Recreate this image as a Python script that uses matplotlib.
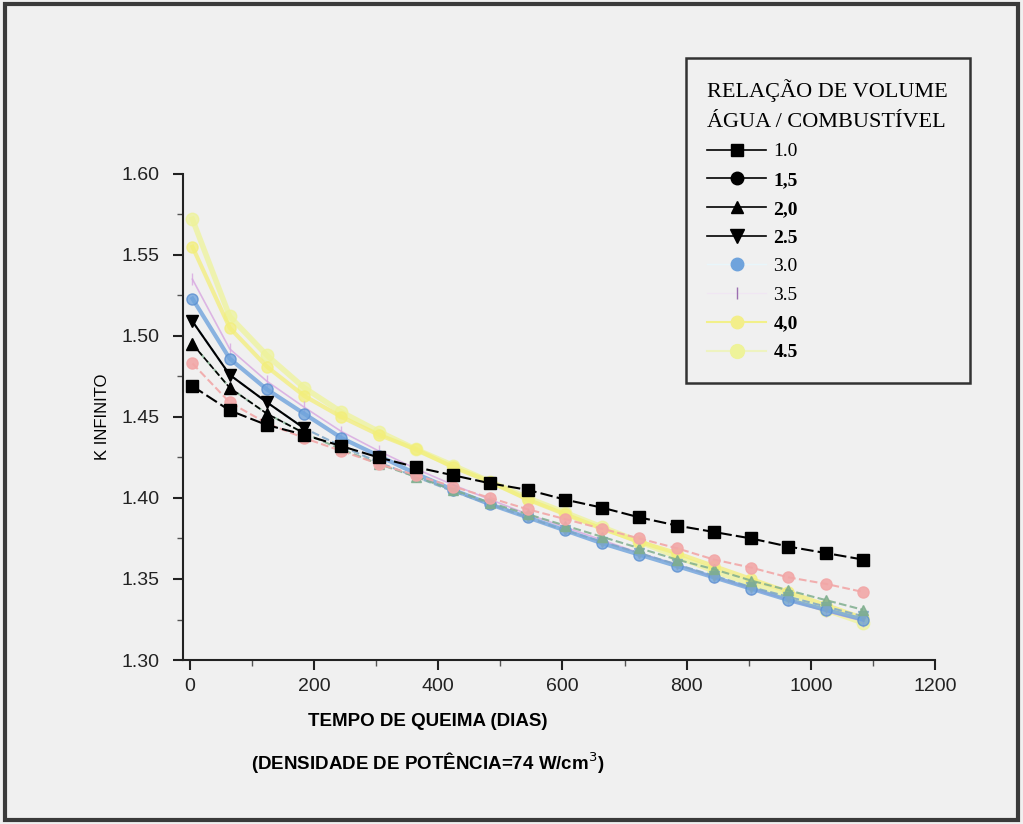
import matplotlib
matplotlib.use("Agg")
import matplotlib.pyplot as plt
from matplotlib.patches import Rectangle
from matplotlib.lines import Line2D
from matplotlib.ticker import MultipleLocator

days = [4, 64, 124, 184, 244, 304, 364, 424, 484, 544, 604, 664, 724, 784, 844, 904, 964, 1024, 1084]

k_10 = [1.469, 1.454, 1.445, 1.439, 1.432, 1.425, 1.419, 1.414, 1.409, 1.405, 1.399, 1.394, 1.388, 1.383, 1.379, 1.375, 1.370, 1.366, 1.362]
k_15 = [1.483, 1.459, 1.446, 1.437, 1.429, 1.421, 1.414, 1.407, 1.400, 1.393, 1.387, 1.381, 1.375, 1.369, 1.362, 1.357, 1.351, 1.347, 1.342]
k_20 = [1.495, 1.468, 1.452, 1.440, 1.430, 1.421, 1.413, 1.405, 1.397, 1.390, 1.383, 1.376, 1.369, 1.362, 1.356, 1.349, 1.343, 1.337, 1.331]
k_25 = [1.509, 1.476, 1.459, 1.443, 1.432, 1.422, 1.413, 1.404, 1.396, 1.388, 1.380, 1.373, 1.366, 1.359, 1.352, 1.345, 1.339, 1.333, 1.327]
k_30 = [1.523, 1.486, 1.467, 1.452, 1.437, 1.426, 1.415, 1.405, 1.396, 1.388, 1.380, 1.372, 1.365, 1.358, 1.351, 1.344, 1.337, 1.331, 1.325]
k_35 = [1.535, 1.492, 1.472, 1.456, 1.441, 1.429, 1.418, 1.408, 1.399, 1.390, 1.382, 1.374, 1.366, 1.359, 1.351, 1.344, 1.337, 1.330, 1.324]
k_40 = [1.555, 1.505, 1.481, 1.463, 1.450, 1.439, 1.430, 1.419, 1.410, 1.399, 1.390, 1.381, 1.373, 1.366, 1.358, 1.350, 1.342, 1.334, 1.326]
k_45 = [1.572, 1.512, 1.488, 1.468, 1.453, 1.441, 1.430, 1.420, 1.410, 1.400, 1.391, 1.382, 1.373, 1.364, 1.355, 1.347, 1.339, 1.331, 1.323]

legend_labels = ["1.0", "1,5", "2,0", "2.5", "3.0", "3.5", "4,0", "4.5"]
legend_bold = [False, True, True, True, False, False, True, True]
x_ticks = [0, 200, 400, 600, 800, 1000, 1200]
y_ticks = [1.30, 1.35, 1.40, 1.45, 1.50, 1.55, 1.60]

BG = "#f0f0f0"
SANS = ["Liberation Sans", "DejaVu Sans"]
NARROW = ["Liberation Sans Narrow", "Liberation Sans", "DejaVu Sans"]
SERIF = ["Liberation Serif", "DejaVu Serif"]

fig = plt.figure(figsize=(10.23, 8.24), dpi=100, facecolor=BG)
fig.patches.append(Rectangle((0.005, 0.005), 0.99, 0.99, transform=fig.transFigure,
                             fill=False, edgecolor="#3a3a3a", linewidth=3))

ax = fig.add_axes([0.179, 0.199, 0.735, 0.590])
ax.set_facecolor(BG)

# pastel series (background)
ax.plot(days, k_45, color="#eef39a", marker="o", ms=9, lw=4, alpha=0.75, zorder=2)
ax.plot(days, k_40, color="#f3ee7a", marker="o", ms=8, lw=3, alpha=0.75, zorder=2)
ax.plot(days, k_35, color="#d7a6e0", marker="|", ms=8, lw=1.2, alpha=0.8, zorder=3)
ax.plot(days, k_30, color="#6fa3dc", marker="o", ms=8, lw=3, alpha=0.8, zorder=3,
        markeredgecolor="#5b8fd0")
ax.plot(days, k_25, color="#7da6c8", marker="v", ms=7, lw=1.5, ls="--", alpha=0.85, zorder=4)
ax.plot(days, k_20, color="#7fae8e", marker="^", ms=7, lw=1.5, ls="--", alpha=0.85, zorder=4)
ax.plot(days, k_15, color="#f2a7a7", marker="o", ms=8, lw=1.5, ls="--", alpha=0.9, zorder=5)
# black early parts
ax.plot(days[:4], k_20[:4], color="black", marker="^", ms=8, lw=1.2, ls="--", zorder=6)
ax.plot(days[:4], k_25[:4], color="black", marker="v", ms=9, lw=1.5, zorder=6)
ax.plot(days, k_10, color="black", marker="s", ms=8, lw=1.5, ls=(0, (6, 2)), zorder=7)

ax.set_xlim(-11, 1200)
ax.set_ylim(1.30, 1.60)
ax.set_xticks(x_ticks)
ax.set_yticks(y_ticks)
ax.set_yticklabels([f"{v:.2f}" for v in y_ticks])
ax.xaxis.set_minor_locator(MultipleLocator(100))
ax.yaxis.set_minor_locator(MultipleLocator(0.025))
for s in ["top", "right"]:
    ax.spines[s].set_visible(False)
for s in ["left", "bottom"]:
    ax.spines[s].set_linewidth(1.5)
    ax.spines[s].set_color("#222222")
ax.tick_params(axis="both", which="major", direction="out", length=7, width=1.5,
               labelsize=14, colors="#222222")
ax.tick_params(axis="y", which="major", pad=10)
ax.tick_params(axis="x", which="major", pad=6)
ax.tick_params(axis="both", which="minor", direction="out", length=4, width=1, colors="#555555")
for lab in ax.get_xticklabels() + ax.get_yticklabels():
    lab.set_fontfamily(SANS)

ax.set_ylabel("K INFINITO", fontsize=12, family=SANS, labelpad=8)
fig.text(0.418, 0.124, "TEMPO DE QUEIMA (DIAS)", ha="center", va="center", fontsize=13.5,
         fontweight="bold", family=NARROW)
fig.text(0.418, 0.074, "(DENSIDADE DE POTÊNCIA=74 W/cm$^{3}$)", ha="center", va="center",
         fontsize=13.5, fontweight="bold", family=NARROW)

handles = [
    Line2D([], [], color="black", marker="s", ms=9, lw=1.2),
    Line2D([], [], color="black", marker="o", ms=9, lw=1.2),
    Line2D([], [], color="black", marker="^", ms=9, lw=1.2),
    Line2D([], [], color="black", marker="v", ms=10, lw=1.2),
    Line2D([], [], color="#e8f6fb", marker="o", ms=9, markerfacecolor="#6fa3dc",
           markeredgecolor="#6fa3dc", lw=1),
    Line2D([], [], color="#f0e6f3", marker="|", ms=8, markeredgecolor="#9c6fb0", lw=1),
    Line2D([], [], color="#f2f08a", marker="o", ms=9, markerfacecolor="#f3ee8a",
           markeredgecolor="#f3ee8a", lw=1.5),
    Line2D([], [], color="#eef3c0", marker="o", ms=10, markerfacecolor="#eef39a",
           markeredgecolor="#eef39a", lw=1.5),
]
leg = fig.legend(handles, legend_labels, title="RELAÇÃO DE VOLUME\nÁGUA / COMBUSTÍVEL",
                 loc="upper left", bbox_to_anchor=(686 / 1023, 1 - 58 / 824), borderaxespad=0,
                 frameon=True, fancybox=False,
                 edgecolor="#333333", facecolor=BG, framealpha=1, handlelength=3.0,
                 labelspacing=0.57, borderpad=1.1, handletextpad=0.4,
                 prop={"family": SERIF, "size": 14},
                 title_fontproperties={"family": SERIF, "size": 16})
leg._legend_box.align = "left"
leg.get_title().set_linespacing(1.75)
leg.get_frame().set_linewidth(1.8)
for t, b in zip(leg.get_texts(), legend_bold):
    if b:
        t.set_fontweight("bold")
leg.set_zorder(10)

fig.savefig("out.png", dpi=100, facecolor=BG)
